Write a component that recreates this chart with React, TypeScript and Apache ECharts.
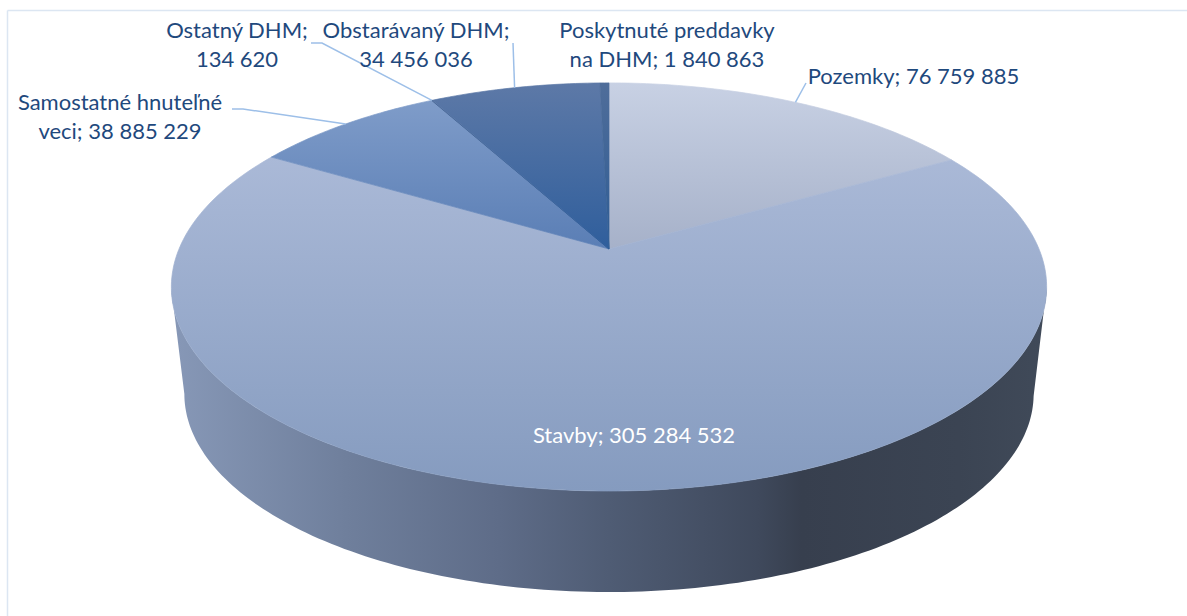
import React, { useEffect, useRef } from "react";
import * as echarts from "echarts";

const categories = ["Pozemky", "Stavby", "Samostatné hnuteľné veci", "Ostatný DHM", "Obstarávaný DHM", "Poskytnuté preddavky na DHM"];
const values = [76759885, 305284532, 38885229, 134620, 34456036, 1840863];
const labelTexts = [
  "Pozemky; 76 759 885",
  "Stavby; 305 284 532",
  "Samostatné hnuteľné\nveci; 38 885 229",
  "Ostatný DHM;\n134 620",
  "Obstarávaný DHM;\n34 456 036",
  "Poskytnuté preddavky\nna DHM; 1 840 863",
];

const sliceGradients: [string, string][] = [
  ["#c8d1e4", "#a6b1c9"],
  ["#aab9d7", "#859bbf"],
  ["#7f9cc9", "#5a7eb5"],
  ["#3f5f8f", "#2f5a92"],
  ["#5d79a7", "#2f5e9c"],
  ["#4f6d9a", "#2e5c94"],
];
const labelPos: [number, number][] = [
  [913.5, 75.5],
  [634, 434.5],
  [120, 116],
  [237, 44],
  [416, 44],
  [667, 44],
];
const labelColors = ["#1f497d", "#ffffff", "#1f497d", "#1f497d", "#1f497d", "#1f497d"];
// Fixed leader starts; the end of each leader is the rim point at the slice's mid-angle.
const leaderStarts: (number[][] | null)[] = [
  [[806, 83]],
  null,
  [[232, 109], [243, 109]],
  [[311, 43], [322, 43]],
  [[513, 43]],
  null,
];
const wallStops: [number, string][] = [
  [0, "#8798b7"], [0.2, "#6f7f9c"], [0.375, "#5e6c88"], [0.5, "#4f5c74"],
  [0.67, "#3f495c"], [0.72, "#373f4e"], [0.9, "#3b4453"], [1, "#404a59"],
];

// Perspective projection of the pie's top disc
const CX = 609, APEX_Y = 249, A = 430, B = 197, K = 0.186;
const ELL_CY = 287, TOP_RX = 438, TOP_RY = 204, BASE_CY = 394, BASE_RX = 425, BASE_RY = 198;
const TANGENT = 100.7;
const total = values.reduce((a, b) => a + b, 0);

function project(deg: number): number[] {
  const r = (deg * Math.PI) / 180;
  const u = Math.sin(r), v = Math.cos(r), d = 1 + K * v;
  return [CX + (A * u) / d, APEX_Y - (B * v) / d];
}
function projectBase(deg: number): number[] {
  const [x, y] = project(deg);
  return [CX + ((x - CX) * BASE_RX) / TOP_RX, BASE_CY + ((y - ELL_CY) * BASE_RY) / TOP_RY];
}
function sliceAngles(i: number): [number, number] {
  let c = 0;
  for (let j = 0; j < i; j++) c += values[j];
  return [(c / total) * 360, ((c + values[i]) / total) * 360];
}

function renderWall() {
  const pts: number[][] = [];
  for (let a = TANGENT; a <= 360 - TANGENT + 0.001; a += 1) pts.push(project(a));
  for (let a = 360 - TANGENT; a >= TANGENT - 0.001; a -= 1) pts.push(projectBase(a));
  return {
    type: "polygon",
    shape: { points: pts },
    style: {
      fill: new echarts.graphic.LinearGradient(0, 0, 1, 0, wallStops.map(([offset, color]) => ({ offset, color }))),
    },
  };
}

function renderSlice(params: any) {
  const i = params.dataIndex;
  const [a0, a1] = sliceAngles(i);
  const pts: number[][] = [[CX, APEX_Y]];
  const steps = Math.max(2, Math.ceil(a1 - a0));
  for (let s = 0; s <= steps; s++) pts.push(project(a0 + ((a1 - a0) * s) / steps));
  const grad = () =>
    new echarts.graphic.LinearGradient(0, 0, 0, 1, [
      { offset: 0, color: sliceGradients[i][0] },
      { offset: 1, color: sliceGradients[i][1] },
    ]);
  return {
    type: "polygon",
    z2: 1,
    shape: { points: pts },
    style: { fill: grad(), stroke: grad(), lineWidth: 0.7, lineJoin: "round" },
  };
}

function renderLabel(params: any) {
  const i = params.dataIndex;
  const [a0, a1] = sliceAngles(i);
  const children: any[] = [];
  const start = leaderStarts[i];
  if (start) {
    children.push({
      type: "polyline",
      shape: { points: [...start, project((a0 + a1) / 2)] },
      style: { stroke: "#9dbfe8", lineWidth: 1.5, fill: "none" },
    });
  }
  children.push({
    type: "text",
    z2: 5,
    style: {
      text: labelTexts[i],
      x: labelPos[i][0],
      y: labelPos[i][1],
      align: "center",
      verticalAlign: "middle",
      fill: labelColors[i],
      fontFamily: "Lato",
      fontSize: 22,
      lineHeight: 29,
    },
  });
  return { type: "group", children };
}

export default function App() {
  const ref = useRef<HTMLDivElement>(null);
  useEffect(() => {
    const chart = echarts.init(ref.current!, null, { renderer: "svg" });
    const data = categories.map((name, i) => ({ name, value: values[i] }));
    chart.setOption({
      animation: false,
      backgroundColor: "#ffffff",
      graphic: [
        { type: "line", silent: true, shape: { x1: 7.5, y1: 10.5, x2: 1187, y2: 10.5 }, style: { stroke: "#dce6f2", lineWidth: 1.5 } },
        { type: "line", silent: true, shape: { x1: 7.5, y1: 10.5, x2: 7.5, y2: 616 }, style: { stroke: "#dce6f2", lineWidth: 1.5 } },
      ],
      series: [
        { type: "custom", coordinateSystem: "none", silent: true, z: 1, data: [data[1]], renderItem: renderWall },
        { type: "custom", coordinateSystem: "none", silent: true, z: 2, data, renderItem: renderSlice },
        { type: "custom", coordinateSystem: "none", silent: true, z: 3, data, renderItem: renderLabel },
      ],
    });
    return () => chart.dispose();
  }, []);
  return <div ref={ref} style={{ position: "fixed", left: 0, top: 0, width: 1187, height: 616 }} />;
}
